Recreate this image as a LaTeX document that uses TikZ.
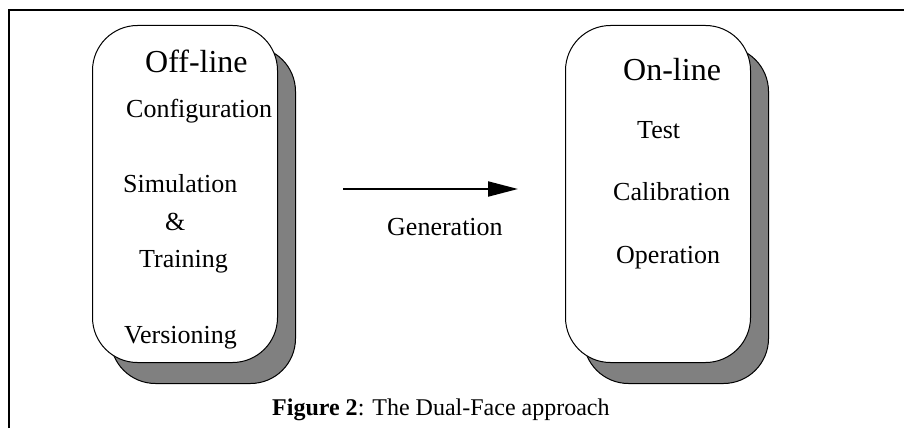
\documentclass[tikz,border=0pt]{standalone}
\usepackage{fontspec}
\setmainfont{Liberation Serif}
\usetikzlibrary{arrows.meta,positioning}
\definecolor{dfgray}{HTML}{808080}
\tikzset{
  face/.style={draw=black, line width=1pt, rounded corners=45pt, minimum width=185pt, minimum height=337pt, inner sep=0pt, anchor=north west},
  card/.style={face, fill=white},
  shade/.style={face, fill=dfgray},
  hd/.style={inner sep=0pt, anchor=base west, font=\fontsize{32}{38}\selectfont},
  itm/.style={inner sep=0pt, anchor=base west, font=\fontsize{26}{31}\selectfont},
  captxt/.style={inner sep=0pt, anchor=base west, font=\fontsize{24}{29}\selectfont},
  arr/.style={-{Triangle[length=30pt, width=15pt]}, line width=2pt},
  frm/.style={line width=1.5pt},
}
\begin{document}
\begin{tikzpicture}[x=1pt, y=-1pt]
  \useasboundingbox (0,0) rectangle (904,428);
  % open frame, top and left only
  \draw[frm] (9,428) -- (9,10) -- (904,10);

  % off-line face
  \node[shade] (offsh) at (110,46) {};
  \node[card] (off) at (92,25) {};
  \node[hd] (offhd) at (145,72) {Off-line};
  \node[itm] (cfg) at (126,117) {Configuration};
  \node[itm] (sim) at (123,192) {Simulation};
  \node[itm] (amp) at (165,230) {\&};
  \node[itm] (trn) at (139,267) {Training};
  \node[itm] (ver) at (124,343) {Versioning};

  % on-line face
  \node[shade] (onsh) at (583,46) {};
  \node[card] (on) at (565,25) {};
  \node[hd] (onhd) at (623,80) {On-line};
  \node[itm] (tst) at (637,138) {Test};
  \node[itm] (cal) at (613,200) {Calibration};
  \node[itm] (opr) at (616,263) {Operation};

  % generation step
  \coordinate (gs) at (343,189);
  \coordinate (ge) at (518,189);
  \draw[arr] (gs) -- (ge);
  \node[itm] (gen) at (387,235) {Generation};

  \node[captxt] (capt) at (272,415) {\textbf{Figure 2}: The Dual-Face approach};
\end{tikzpicture}
\end{document}
